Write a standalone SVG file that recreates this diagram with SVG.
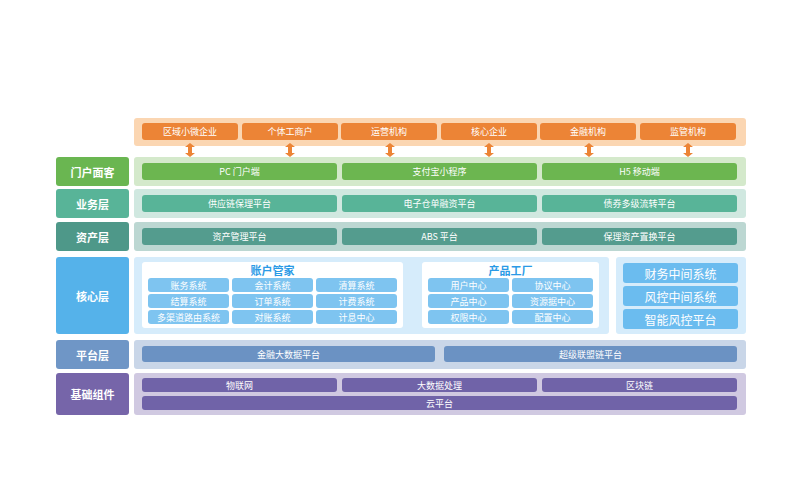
<svg xmlns="http://www.w3.org/2000/svg" width="800" height="500" viewBox="0 0 800 500">
<defs>
<style>
text{font-family:"Noto Sans CJK SC","Liberation Sans",sans-serif;fill:#fff;text-anchor:middle;dominant-baseline:central}
.s{font-size:9px}.l{font-size:11px;font-weight:bold}.t{font-size:11px;font-weight:bold;fill:#2a9ae6}.r{font-size:12px}
.o{fill:#ec8436}.g{fill:#6cb650}.b{fill:#58b498}.a{fill:#549c8e}.c{fill:#7ec4f0}.p{fill:#6b92c3}.v{fill:#7063a8}
</style>
<g id="arr"><path d="M0,0 l-5,4 h3 v6 h-3 l5,4 l5,-4 h-3 v-6 h3 z" fill="#ec8436"/></g>
</defs>
<rect x="0" y="0" width="800" height="500" fill="#fff"/>
<g id="top">
<rect x="134" y="118" width="612" height="28" rx="3" fill="#fbd6b2"/>
<rect class="o" x="142" y="123" width="96" height="17" rx="3"/><text class="s" x="190" y="131.5">区域小微企业</text>
<rect class="o" x="242" y="123" width="96" height="17" rx="3"/><text class="s" x="290" y="131.5">个体工商户</text>
<rect class="o" x="341" y="123" width="96" height="17" rx="3"/><text class="s" x="389" y="131.5">运营机构</text>
<rect class="o" x="441" y="123" width="96" height="17" rx="3"/><text class="s" x="489" y="131.5">核心企业</text>
<rect class="o" x="540" y="123" width="96" height="17" rx="3"/><text class="s" x="588" y="131.5">金融机构</text>
<rect class="o" x="640" y="123" width="96" height="17" rx="3"/><text class="s" x="688" y="131.5">监管机构</text>
</g>
<g id="connectors">
<use href="#arr" x="190" y="143"/><use href="#arr" x="290" y="143"/><use href="#arr" x="390" y="143"/>
<use href="#arr" x="489" y="143"/><use href="#arr" x="589" y="143"/><use href="#arr" x="688" y="143"/>
</g>
<g id="portal">
<rect x="56" y="157" width="73" height="29" rx="3" fill="#6ab651"/><text class="l" x="92.5" y="171.5">门户面客</text>
<rect x="134" y="157" width="612" height="29" rx="3" fill="#d4e9cb"/>
<rect class="g" x="142" y="163" width="195" height="17" rx="3"/><text class="s" x="239.5" y="171.5">PC 门户端</text>
<rect class="g" x="342" y="163" width="195" height="17" rx="3"/><text class="s" x="439.5" y="171.5">支付宝小程序</text>
<rect class="g" x="542" y="163" width="195" height="17" rx="3"/><text class="s" x="639.5" y="171.5">H5 移动端</text>
</g>
<g id="biz">
<rect x="56" y="189" width="73" height="29" rx="3" fill="#58b498"/><text class="l" x="92.5" y="203.5">业务层</text>
<rect x="134" y="189" width="612" height="29" rx="3" fill="#d0e8e0"/>
<rect class="b" x="142" y="195" width="195" height="17" rx="3"/><text class="s" x="239.5" y="203.5">供应链保理平台</text>
<rect class="b" x="342" y="195" width="195" height="17" rx="3"/><text class="s" x="439.5" y="203.5">电子仓单融资平台</text>
<rect class="b" x="542" y="195" width="195" height="17" rx="3"/><text class="s" x="639.5" y="203.5">债券多级流转平台</text>
</g>
<g id="asset">
<rect x="56" y="222" width="73" height="29" rx="3" fill="#4e9889"/><text class="l" x="92.5" y="236.5">资产层</text>
<rect x="134" y="222" width="612" height="29" rx="3" fill="#bcd7d2"/>
<rect class="a" x="142" y="228" width="195" height="17" rx="3"/><text class="s" x="239.5" y="236.5">资产管理平台</text>
<rect class="a" x="342" y="228" width="195" height="17" rx="3"/><text class="s" x="439.5" y="236.5">ABS 平台</text>
<rect class="a" x="542" y="228" width="195" height="17" rx="3"/><text class="s" x="639.5" y="236.5">保理资产置换平台</text>
</g>
<g id="core">
<rect x="56" y="257" width="73" height="77" rx="3" fill="#55b2ea"/><text class="l" x="92.5" y="295.5">核心层</text>
<rect x="134" y="257" width="475" height="77" rx="3" fill="#d6ecfb"/>
<rect x="616" y="257" width="130" height="77" rx="3" fill="#d6ecfb"/>
<rect x="142" y="262" width="261" height="66" rx="3" fill="#fff"/><text class="t" x="272.5" y="270">账户管家</text>
<rect class="c" x="148" y="278" width="81" height="14" rx="3"/><text class="s" x="188.5" y="285">账务系统</text>
<rect class="c" x="232" y="278" width="81" height="14" rx="3"/><text class="s" x="272.5" y="285">会计系统</text>
<rect class="c" x="316" y="278" width="81" height="14" rx="3"/><text class="s" x="356.5" y="285">清算系统</text>
<rect class="c" x="148" y="294" width="81" height="14" rx="3"/><text class="s" x="188.5" y="301">结算系统</text>
<rect class="c" x="232" y="294" width="81" height="14" rx="3"/><text class="s" x="272.5" y="301">订单系统</text>
<rect class="c" x="316" y="294" width="81" height="14" rx="3"/><text class="s" x="356.5" y="301">计费系统</text>
<rect class="c" x="148" y="310" width="81" height="14" rx="3"/><text class="s" x="188.5" y="317">多渠道路由系统</text>
<rect class="c" x="232" y="310" width="81" height="14" rx="3"/><text class="s" x="272.5" y="317">对账系统</text>
<rect class="c" x="316" y="310" width="81" height="14" rx="3"/><text class="s" x="356.5" y="317">计息中心</text>
<rect x="422" y="262" width="177" height="66" rx="3" fill="#fff"/><text class="t" x="510.5" y="270">产品工厂</text>
<rect class="c" x="428" y="278" width="81" height="14" rx="3"/><text class="s" x="468.5" y="285">用户中心</text>
<rect class="c" x="512" y="278" width="81" height="14" rx="3"/><text class="s" x="552.5" y="285">协议中心</text>
<rect class="c" x="428" y="294" width="81" height="14" rx="3"/><text class="s" x="468.5" y="301">产品中心</text>
<rect class="c" x="512" y="294" width="81" height="14" rx="3"/><text class="s" x="552.5" y="301">资源据中心</text>
<rect class="c" x="428" y="310" width="81" height="14" rx="3"/><text class="s" x="468.5" y="317">权限中心</text>
<rect class="c" x="512" y="310" width="81" height="14" rx="3"/><text class="s" x="552.5" y="317">配置中心</text>
<rect x="623" y="263" width="115" height="20" rx="3" fill="#6bbcef"/><text class="r" x="680.5" y="273">财务中间系统</text>
<rect x="623" y="286" width="115" height="20" rx="3" fill="#6bbcef"/><text class="r" x="680.5" y="296">风控中间系统</text>
<rect x="623" y="309" width="115" height="20" rx="3" fill="#6bbcef"/><text class="r" x="680.5" y="319">智能风控平台</text>
</g>
<g id="platform">
<rect x="56" y="340" width="73" height="29" rx="3" fill="#6f96c6"/><text class="l" x="92.5" y="354.5">平台层</text>
<rect x="134" y="340" width="612" height="29" rx="3" fill="#c9d6e8"/>
<rect class="p" x="142" y="346" width="293" height="16" rx="3"/><text class="s" x="288.5" y="354">金融大数据平台</text>
<rect class="p" x="444" y="346" width="293" height="16" rx="3"/><text class="s" x="590.5" y="354">超级联盟链平台</text>
</g>
<g id="base">
<rect x="56" y="373" width="73" height="42" rx="3" fill="#7665a9"/><text class="l" x="92.5" y="394">基础组件</text>
<rect x="134" y="373" width="612" height="42" rx="3" fill="#d0c9e1"/>
<rect class="v" x="142" y="378" width="195" height="14" rx="3"/><text class="s" x="239.5" y="385">物联网</text>
<rect class="v" x="342" y="378" width="195" height="14" rx="3"/><text class="s" x="439.5" y="385">大数据处理</text>
<rect class="v" x="542" y="378" width="195" height="14" rx="3"/><text class="s" x="639.5" y="385">区块链</text>
<rect class="v" x="142" y="396" width="595" height="14" rx="3"/><text class="s" x="439.5" y="403">云平台</text>
</g>
</svg>
